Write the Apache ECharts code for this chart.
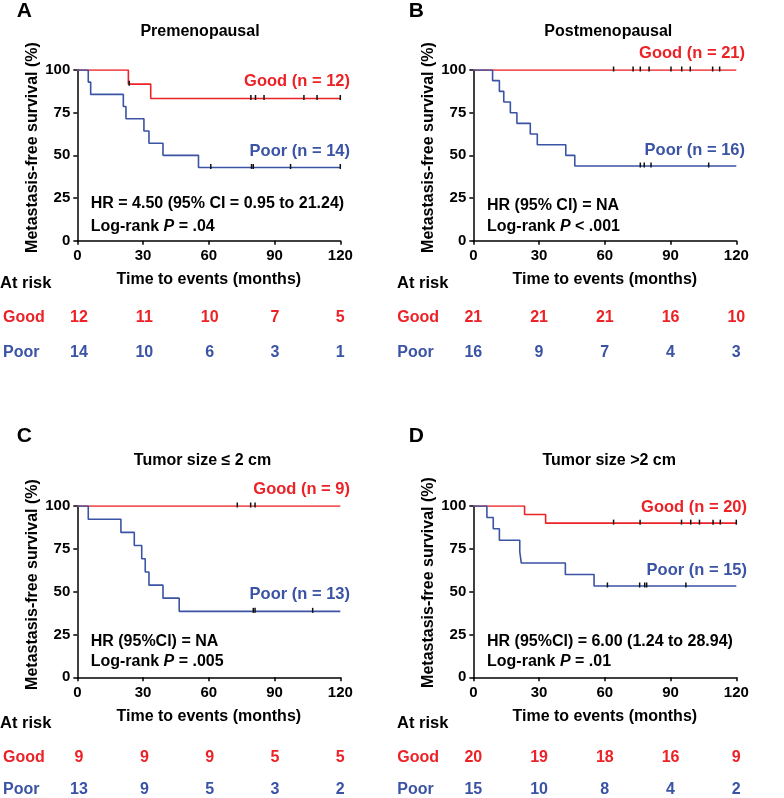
<!DOCTYPE html>
<html>
<head>
<meta charset="utf-8">
<script src="https://cdn.jsdelivr.net/npm/echarts@6/dist/echarts.min.js"></script>
<style>
  html, body { margin: 0; padding: 0; background: #fff; }
  #chart { width: 784px; height: 798px; }
</style>
</head>
<body>
<div id="chart"></div>
<script>
// ---- data ----
var timeTicks = [0, 30, 60, 90, 120]

// panel A : Premenopausal
var aGood = [[0, 100], [23.3, 91.7], [33.5, 83.3], [120, 83.3]]
var aGoodCens = [23.7, 79.2, 81.3, 85.2, 103.4, 109.4, 120]
var aPoor = [[0, 100], [5.0, 92.9], [6.1, 85.7], [21.0, 78.6], [22.2, 71.4], [30.4, 64.3], [32.7, 57.1], [39.1, 50], [55.3, 42.9], [120, 42.9]]
var aPoorCens = [60.9, 79.5, 80.3, 97.3, 120]
var aRiskGood = [12, 11, 10, 7, 5]
var aRiskPoor = [14, 10, 6, 3, 1]

// panel B : Postmenopausal
var bGood = [[0, 100], [120, 100]]
var bGoodCens = [64.0, 72.9, 76.2, 80.2, 90.2, 95.1, 99.0, 109.2, 112.4]
var bPoor = [[0, 100], [8.8, 93.75], [11.9, 87.5], [13.9, 81.25], [16.9, 75], [19.9, 68.75], [26.0, 62.5], [29.2, 56.25], [42.2, 50], [46.3, 43.75], [120, 43.75]]
var bPoorCens = [76.2, 78.0, 81.1, 107.4]
var bRiskGood = [21, 21, 21, 16, 10]
var bRiskPoor = [16, 9, 7, 4, 3]

// panel C : Tumor size <= 2 cm
var cGood = [[0, 100], [120, 100]]
var cGoodCens = [73.0, 79.1, 81.1]
var cPoor = [[0, 100], [5.0, 92.3], [19.9, 84.6], [26.0, 76.9], [29.4, 69.2], [31.0, 61.5], [32.7, 53.8], [39.1, 46.2], [46.5, 38.5], [120, 38.5]]
var cPoorCens = [80.3, 81.1, 107.4]
var cRiskGood = [9, 9, 9, 5, 5]
var cRiskPoor = [13, 9, 5, 3, 2]

// panel D : Tumor size > 2 cm
var dGood = [[0, 100], [23.4, 95], [33.0, 90], [120, 90]]
var dGoodCens = [64.0, 76.1, 95.0, 99.2, 103.2, 109.4, 112.7, 120]
var dPoor = [[0, 100], [6.2, 93.3], [9.1, 86.7], [11.9, 80], [21.2, 73.3], [21.9, 66.7], [42.0, 60], [55.1, 53.3], [120, 53.3]]
var dPoorCens = [61.2, 75.9, 78.2, 79.1, 97.0]
var dRiskGood = [20, 19, 18, 16, 9]
var dRiskPoor = [15, 10, 8, 4, 2]

var RED = '#ec2227'
var BLUE = '#3a53a4'
var FONT = 'Liberation Sans, Arial, sans-serif'

var panels = [
  { letter: 'A', title: 'Premenopausal', left: 77.3, top: 70, h: 170.7, riskTop: 317.3, titleX: 200, titleY: 31.7, letterX: 16.7, letterY: 11,
    good: aGood, goodCens: aGoodCens, poor: aPoor, poorCens: aPoorCens, riskGood: aRiskGood, riskPoor: aRiskPoor,
    goodLabel: 'Good (n = 12)', goodPos: [350, 81.7], poorLabel: 'Poor (n = 14)', poorPos: [350, 151.7],
    hr: 'HR = 4.50 (95% CI = 0.95 to 21.24)', p: ' = .04', hrX: 90.7, hrY: [203.3, 226.7], ylab: [32.5, 147.5], riskHead: [0, 283.3] },
  { letter: 'B', title: 'Postmenopausal', left: 473.3, top: 70, h: 170.7, riskTop: 317.3, titleX: 608.3, titleY: 31.7, letterX: 408.7, letterY: 11,
    good: bGood, goodCens: bGoodCens, poor: bPoor, poorCens: bPoorCens, riskGood: bRiskGood, riskPoor: bRiskPoor,
    goodLabel: 'Good (n = 21)', goodPos: [745, 53.3], poorLabel: 'Poor (n = 16)', poorPos: [745, 150.7],
    hr: 'HR (95% CI) = NA', p: ' < .001', hrX: 487, hrY: [206, 226.7], ylab: [428.7, 147.5], riskHead: [397, 283.3] },
  { letter: 'C', title: 'Tumor size ≤ 2 cm', left: 77.3, top: 506, h: 171.3, riskTop: 757.3, titleX: 202.5, titleY: 460.7, letterX: 16.7, letterY: 436.7,
    good: cGood, goodCens: cGoodCens, poor: cPoor, poorCens: cPoorCens, riskGood: cRiskGood, riskPoor: cRiskPoor,
    goodLabel: 'Good (n = 9)', goodPos: [350, 489.3], poorLabel: 'Poor (n = 13)', poorPos: [350, 594],
    hr: 'HR (95%Cl) = NA', p: ' = .005', hrX: 90.7, hrY: [641.7, 661.7], ylab: [32.5, 584.5], riskHead: [0, 723.3] },
  { letter: 'D', title: 'Tumor size >2 cm', left: 473.3, top: 506, h: 171.3, riskTop: 757.3, titleX: 609.2, titleY: 460.7, letterX: 408.7, letterY: 436.7,
    good: dGood, goodCens: dGoodCens, poor: dPoor, poorCens: dPoorCens, riskGood: dRiskGood, riskPoor: dRiskPoor,
    goodLabel: 'Good (n = 20)', goodPos: [747, 507.3], poorLabel: 'Poor (n = 15)', poorPos: [747, 570],
    hr: 'HR (95%Cl) = 6.00 (1.24 to 28.94)', p: ' = .01', hrX: 487, hrY: [641.7, 661.7], ylab: [428.7, 582.5], riskHead: [397, 723.3] }
]

// survival level of a step curve at time t (for placing censor ticks)
function levelAt(curve, t) {
  var s = curve[0][1]
  for (var i = 0; i < curve.length; i++) {
    if (curve[i][0] <= t) s = curve[i][1]
  }
  return s
}

var axisLineStyle = { color: '#000', width: 1.5 }
var grid = [], xAxis = [], yAxis = [], series = [], graphic = []

panels.forEach(function (p, i) {
  var gi = grid.length
  grid.push({ left: p.left, top: p.top, width: 263, height: p.h })
  xAxis.push({
    gridIndex: gi, type: 'value', min: 0, max: 120, interval: 30,
    axisLine: { show: true, lineStyle: axisLineStyle },
    axisTick: { show: true, length: 4, lineStyle: axisLineStyle },
    axisLabel: { color: '#000', fontWeight: 'bold', fontSize: 15, fontFamily: FONT, margin: 8 },
    splitLine: { show: false },
    name: 'Time to events (months)', nameLocation: 'middle', nameGap: 31,
    nameTextStyle: { color: '#000', fontWeight: 'bold', fontSize: 16, fontFamily: FONT }
  })
  yAxis.push({
    gridIndex: gi, type: 'value', min: 0, max: 100, interval: 25,
    axisLine: { show: true, lineStyle: axisLineStyle },
    axisTick: { show: true, length: 4, lineStyle: axisLineStyle },
    axisLabel: { color: '#000', fontWeight: 'bold', fontSize: 15, fontFamily: FONT, margin: 7 },
    splitLine: { show: false }
  })
  ;[[p.good, p.goodCens, RED], [p.poor, p.poorCens, BLUE]].forEach(function (g) {
    series.push({
      type: 'line', xAxisIndex: gi, yAxisIndex: gi, step: 'end', data: g[0],
      showSymbol: false, symbol: 'none', lineStyle: { color: g[2], width: 1.6 }, z: 2
    })
    series.push({
      type: 'scatter', xAxisIndex: gi, yAxisIndex: gi, symbol: 'rect', symbolSize: [1.5, 5], symbolOffset: [0, -1],
      itemStyle: { color: '#111', opacity: 1 }, z: 3,
      data: g[1].map(function (t) { return [t, levelAt(g[0], t)] })
    })
  })

  // at-risk table: two category rows placed on the edges of a thin grid
  var ri = grid.length
  grid.push({ left: p.left, top: p.riskTop, width: 263, height: 35 })
  xAxis.push({ gridIndex: ri, type: 'value', min: 0, max: 120, show: false })
  yAxis.push({
    gridIndex: ri, type: 'category', data: ['Good', 'Poor'], inverse: true, boundaryGap: false,
    axisLine: { show: false }, axisTick: { show: false }, splitLine: { show: false },
    axisLabel: {
      align: 'left', margin: 76, fontWeight: 'bold', fontSize: 16, fontFamily: FONT,
      color: function (v) { return v === 'Good' ? RED : BLUE }
    }
  })
  ;[[p.riskGood, 0, RED], [p.riskPoor, 1, BLUE]].forEach(function (r) {
    series.push({
      type: 'scatter', xAxisIndex: ri, yAxisIndex: ri, symbolSize: 1,
      itemStyle: { color: 'rgba(0,0,0,0)', opacity: 1 },
      label: { show: true, position: 'inside', formatter: function (q) { return q.value[2] },
        color: r[2], opacity: 1, fontWeight: 'bold', fontSize: 16, fontFamily: FONT,
        textBorderWidth: 0 },
      data: r[0].map(function (n, k) { return [timeTicks[k], r[1], n] })
    })
  })

  var bold = { fontWeight: 'bold', fontFamily: FONT }
  graphic.push(
    { type: 'text', x: p.letterX, y: p.letterY, style: Object.assign({ text: p.letter, fontSize: 21, fill: '#000', align: 'left', verticalAlign: 'middle' }, bold) },
    { type: 'text', x: p.titleX, y: p.titleY, style: Object.assign({ text: p.title, fontSize: 16, fill: '#000', align: 'center', verticalAlign: 'middle' }, bold) },
    { type: 'text', x: p.goodPos[0], y: p.goodPos[1], style: Object.assign({ text: p.goodLabel, fontSize: 16.5, fill: RED, align: 'right', verticalAlign: 'middle' }, bold) },
    { type: 'text', x: p.poorPos[0], y: p.poorPos[1], style: Object.assign({ text: p.poorLabel, fontSize: 16.5, fill: BLUE, align: 'right', verticalAlign: 'middle' }, bold) },
    { type: 'text', x: p.hrX, y: p.hrY[0], style: Object.assign({ text: p.hr, fontSize: 16, fill: '#000', align: 'left', verticalAlign: 'middle' }, bold) },
    { type: 'text', x: p.hrX, y: p.hrY[1], style: Object.assign({
        text: 'Log-rank {i|P}' + p.p, fontSize: 16, fill: '#000', align: 'left', verticalAlign: 'middle',
        rich: { i: { fontStyle: 'italic', fontWeight: 'bold', fontSize: 16, fontFamily: FONT } } }, bold) },
    { type: 'text', x: p.ylab[0], y: p.ylab[1], rotation: Math.PI / 2, style: Object.assign({ text: 'Metastasis-free survival (%)', fontSize: 16, fill: '#000', align: 'center', verticalAlign: 'middle' }, bold) },
    { type: 'text', x: p.riskHead[0], y: p.riskHead[1], style: Object.assign({ text: 'At risk', fontSize: 16.5, fill: '#000', align: 'left', verticalAlign: 'middle' }, bold) }
  )
})

var chart = echarts.init(document.getElementById('chart'), null, { renderer: 'canvas' })
chart.setOption({
  animation: false,
  backgroundColor: '#fff',
  textStyle: { fontFamily: FONT },
  grid: grid,
  xAxis: xAxis,
  yAxis: yAxis,
  series: series,
  graphic: graphic
})
</script>
</body>
</html>
